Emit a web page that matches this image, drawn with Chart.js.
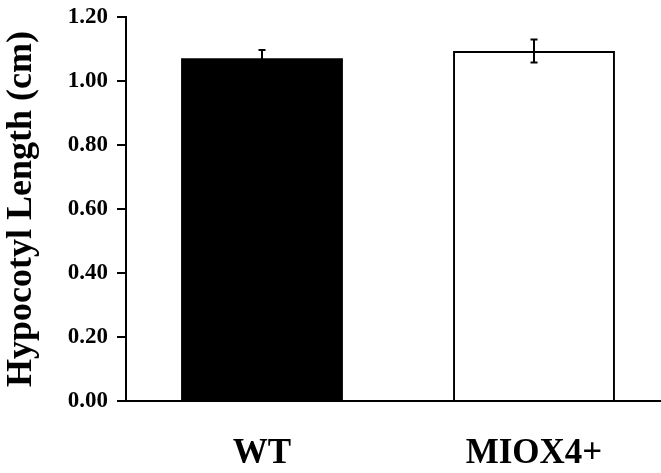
<!DOCTYPE html>
<html>
<head>
<meta charset="utf-8">
<script src="https://cdn.jsdelivr.net/npm/chart.js@4"></script>
<style>
  html, body { margin: 0; padding: 0; background: #fff; overflow: hidden; }
  canvas { display: block; }
</style>
</head>
<body>
<canvas id="hypocotylChart" width="670" height="473"></canvas>
<script>
const genotypes = ["WT", "MIOX4+"];
const meanLength = [1.071, 1.094];
const errLength = [0.026, 0.036];
const barFill = ["#000000", "#ffffff"];
const yTicks = [0, 0.2, 0.4, 0.6, 0.8, 1.0, 1.2];

// error bars drawn from the data through the y scale
const errorBars = {
  id: "errorBars",
  afterDatasetsDraw(chart) {
    const ctx = chart.ctx;
    const meta = chart.getDatasetMeta(0);
    const y = chart.scales.y;
    ctx.save();
    ctx.strokeStyle = "#000";
    ctx.lineWidth = 2;
    meta.data.forEach((bar, i) => {
      const x = bar.x;
      const top = y.getPixelForValue(meanLength[i] + errLength[i]);
      const bot = y.getPixelForValue(meanLength[i] - errLength[i]);
      ctx.beginPath();
      ctx.moveTo(x, top); ctx.lineTo(x, bot);
      ctx.moveTo(x - 3.5, top); ctx.lineTo(x + 3.5, top);
      ctx.moveTo(x - 3.5, bot); ctx.lineTo(x + 3.5, bot);
      ctx.stroke();
    });
    ctx.restore();
  }
};

const serif = "'Liberation Serif', 'Times New Roman', serif";

new Chart(document.getElementById("hypocotylChart"), {
  type: "bar",
  data: {
    labels: genotypes,
    datasets: [{
      data: meanLength,
      backgroundColor: barFill,
      borderColor: "#000",
      borderWidth: [0, 2],
      borderSkipped: "bottom",
      barPercentage: 0.595,
      categoryPercentage: 1.0
    }]
  },
  options: {
    responsive: false,
    animation: false,
    devicePixelRatio: 1,
    layout: { padding: { top: 17, left: 0, right: 0, bottom: 0 } },
    plugins: { legend: { display: false }, tooltip: { enabled: false } },
    scales: {
      x: {
        grid: { display: false },
        border: { display: true, color: "#000", width: 2 },
        ticks: {
          color: "#000",
          padding: 24,
          font: { family: serif, size: 35, weight: "bold" }
        },
        afterFit(scale) {
          scale.height = 72;
          scale.paddingLeft = 0;
          scale.paddingRight = 0;
        }
      },
      y: {
        min: 0,
        max: 1.2,
        afterBuildTicks(scale) { scale.ticks = yTicks.map(v => ({ value: v })); },
        grid: {
          drawOnChartArea: false,
          drawTicks: true,
          tickLength: 9,
          color: "#000",
          lineWidth: 2
        },
        border: { display: true, color: "#000", width: 2 },
        ticks: {
          color: "#000",
          padding: 9,
          font: { family: serif, size: 23, weight: "bold" },
          callback: v => Number(v).toFixed(2)
        },
        title: {
          display: true,
          text: "Hypocotyl Length (cm)",
          color: "#000",
          padding: { top: 0, bottom: 4 },
          font: { family: serif, size: 36, weight: "bold" }
        },
        afterFit(scale) {
          scale.width = 126;
          scale.paddingTop = 0;
          scale.paddingBottom = 0;
        }
      }
    }
  },
  plugins: [errorBars]
});
</script>
</body>
</html>
